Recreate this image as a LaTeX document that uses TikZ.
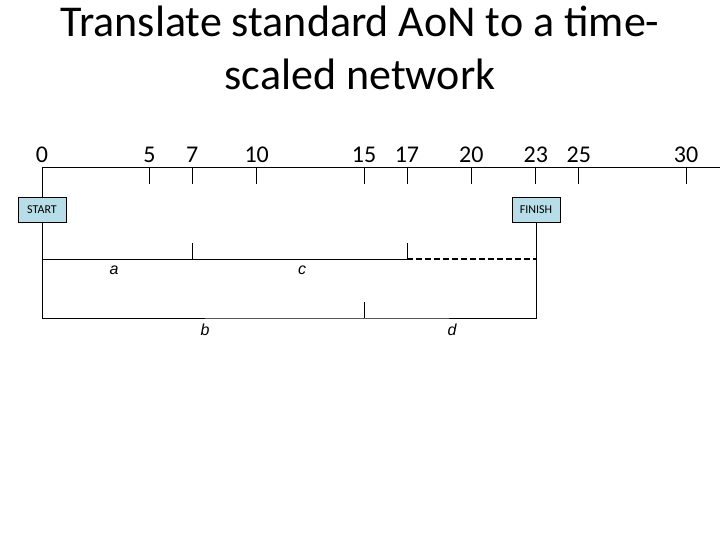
\documentclass[tikz,border=0pt]{standalone}
\usepackage{fontspec}
\setmainfont{Carlito}
\newfontfamily\arialf{Liberation Sans}
\definecolor{boxblue}{HTML}{B7DDE8}
\begin{document}
\begin{tikzpicture}[x=1pt,y=-1pt,
  lbl/.style={font=\fontsize{24}{24}\selectfont,anchor=base},
  tk/.style={line width=0.8pt},
  box/.style={draw,fill=boxblue,line width=0.6pt,minimum height=25pt,inner sep=2pt,font=\fontsize{12}{12}\selectfont},
  act/.style={font=\arialf\itshape\fontsize{16}{16}\selectfont},
  ln/.style={line width=1pt}]
\useasboundingbox (0,0) rectangle (720,540);
\node[font=\fontsize{44}{53}\selectfont,align=center] (title) at (360,48) {Translate standard AoN to a time-\\scaled network};
\coordinate (axL) at (42,167); \coordinate (axR) at (720,167);
\draw[tk] (axL) -- (axR);
\foreach \v in {0,5,7,10,15,17,20,23,25,30}{
  \coordinate (t\v) at ({42+21.47*\v},167);
  \node[lbl] (n\v) at ({42+21.47*\v},163) {\v};
}
\foreach \v in {5,7,10,15,17,20,23,25,30}{ \draw[tk] (t\v) -- ++(0,17); }
\node[box,minimum width=48pt] (start) at (42,209.5) {START};
\node[box,minimum width=48pt] (finish) at (536,209.5) {FINISH};
\draw[ln] (axL) -- (start.north);
\coordinate (r1a) at (42,259); \coordinate (r1b) at (192,259); \coordinate (r1c) at (407,259); \coordinate (r1f) at (536,259);
\coordinate (r2a) at (42,318); \coordinate (r2b) at (364,318); \coordinate (r2f) at (536,318);
\draw[ln] (start.south) -- (r2a) -- (r2b) -- (r2f) -- (finish.south);
\draw[ln] (r1a) -- (r1c);
\draw[ln] (r1b) -- ++(0,-16);
\draw[ln] (r1c) -- ++(0,-16);
\draw[ln] (r2b) -- ++(0,-16);
\draw[line width=2pt,dash pattern=on 6pt off 3pt] (r1c) -- (r1f);
\node[act] (a) at (114,270) {a};
\node[act] (c) at (302,270) {c};
\node[act] (b) at (205,330) {b};
\node[act] (d) at (452,330) {d};
\end{tikzpicture}
\end{document}
